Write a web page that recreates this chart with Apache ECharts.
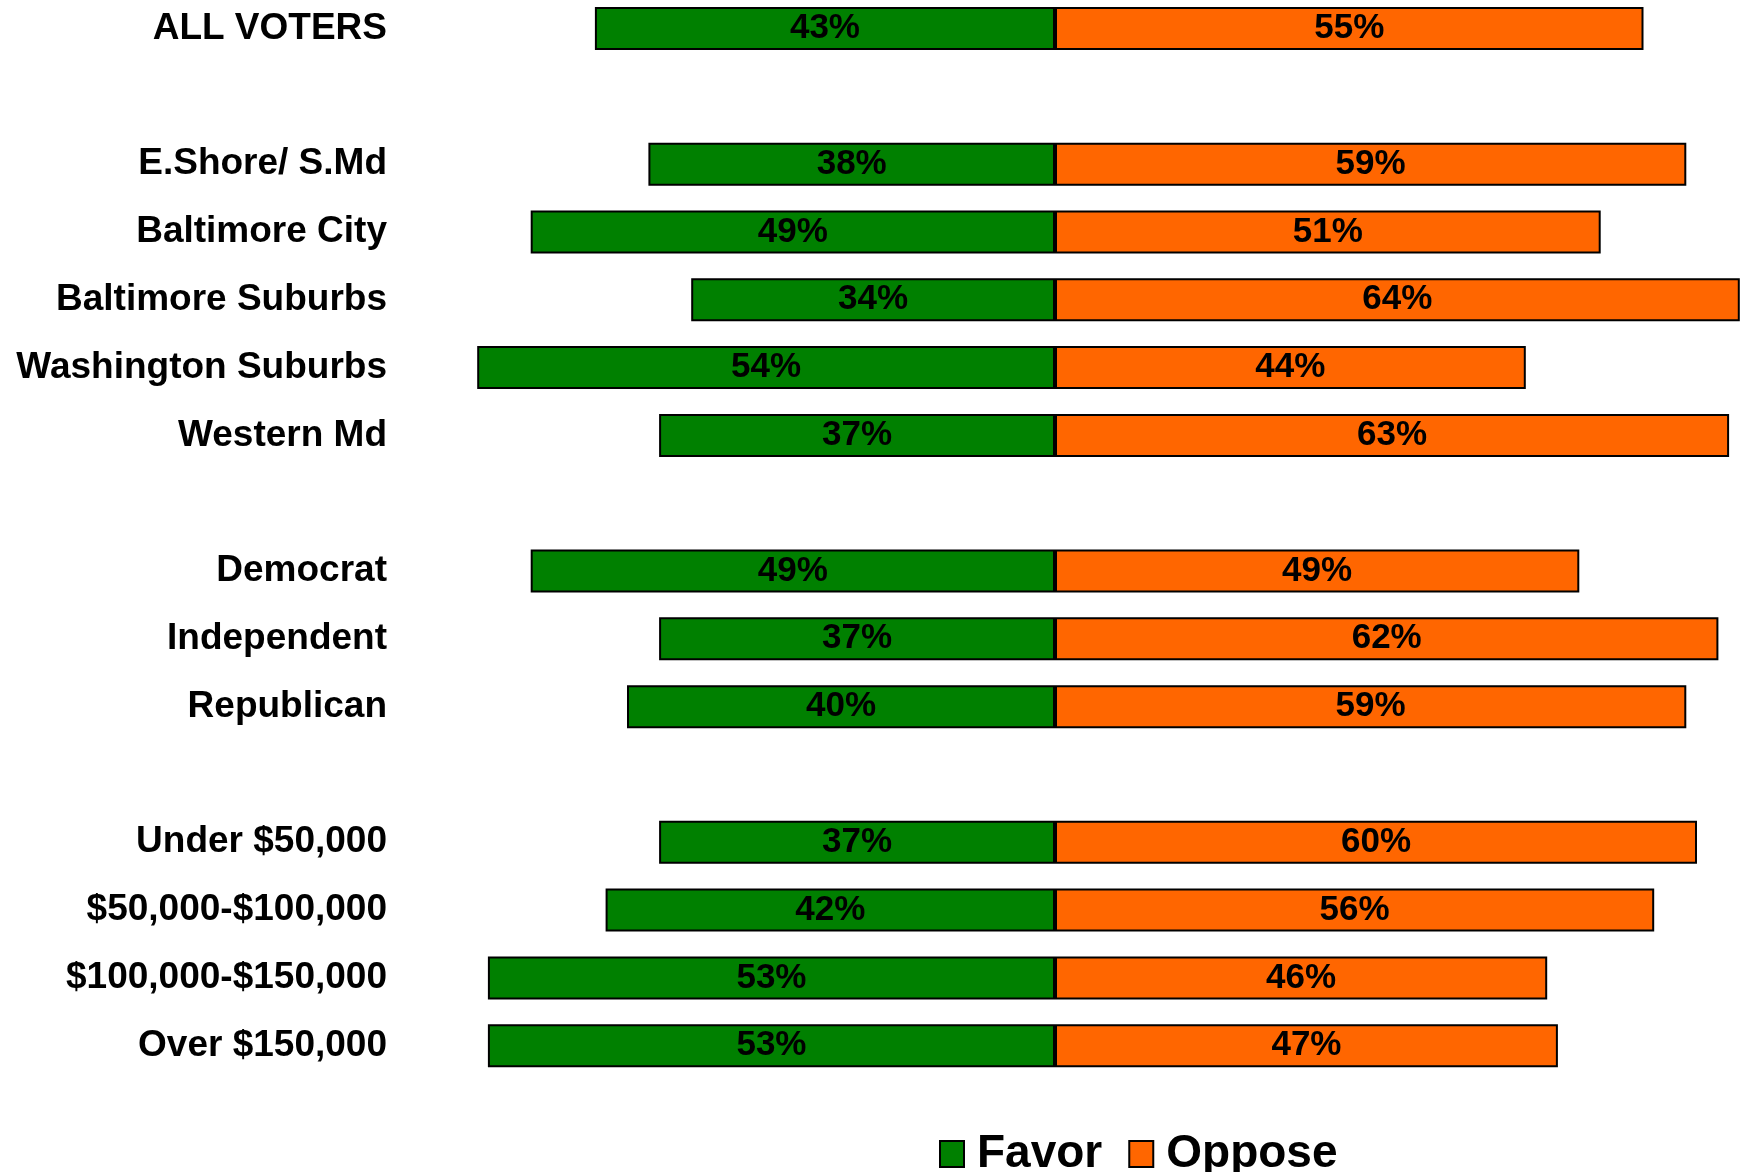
<!DOCTYPE html>
<html>
<head>
<meta charset="utf-8">
<style>
html,body{margin:0;padding:0;background:#fff;overflow:hidden;}
#chart{position:absolute;left:0;top:-20px;width:1749px;height:1192px;}
</style>
<script src="https://cdn.jsdelivr.net/npm/echarts@6/dist/echarts.min.js"></script>
</head>
<body>
<div id="chart"></div>
<script>
var categories = ['ALL VOTERS', ' ', 'E.Shore/ S.Md', 'Baltimore City', 'Baltimore Suburbs', 'Washington Suburbs', 'Western Md', '  ', 'Democrat', 'Independent', 'Republican', '   ', 'Under $50,000', '$50,000-$100,000', '$100,000-$150,000', 'Over $150,000'];
var favor  = [43, null, 38, 49, 34, 54, 37, null, 49, 37, 40, null, 37, 42, 53, 53];
var oppose = [55, null, 59, 51, 64, 44, 63, null, 49, 62, 59, null, 60, 56, 46, 47];

var FONT = '"Liberation Sans", Arial, Helvetica, sans-serif';
var chart = echarts.init(document.getElementById('chart'));
function lbl(p){ return p.value == null ? '' : Math.abs(p.value) + '%'; }
chart.setOption({
  animation: false,
  backgroundColor: '#ffffff',
  grid: { left: 413, right: 9.2, top: 14.6, height: 1085, containLabel: false },
  xAxis: {
    type: 'value', min: -60, max: 64, show: false
  },
  yAxis: {
    type: 'category', data: categories, inverse: true,
    axisLine: { show: false }, axisTick: { show: false }, splitLine: { show: false },
    axisLabel: { color: '#000', fontSize: 37, fontWeight: 'bold', fontFamily: FONT, margin: 26, padding: [8, 0, 0, 0] }
  },
  legend: {
    data: ['Favor', 'Oppose'],
    left: 934, top: 1146,
    icon: 'rect',
    itemWidth: 24, itemHeight: 26, itemGap: 26,
    textStyle: { color: '#000', fontSize: 46, fontWeight: 'bold', fontFamily: FONT, padding: [0, 0, 0, 8] }
  },
  series: [
    {
      name: 'Favor', type: 'bar', stack: 'total', barWidth: 43,
      data: favor.map(function(v){ return v == null ? null : -v; }),
      itemStyle: { color: '#008000', borderColor: '#000', borderWidth: 2 },
      label: { show: true, position: 'inside', formatter: lbl, color: '#000', fontSize: 35, fontWeight: 'bold', fontFamily: FONT }
    },
    {
      name: 'Oppose', type: 'bar', stack: 'total', barWidth: 43,
      data: oppose,
      itemStyle: { color: '#FF6600', borderColor: '#000', borderWidth: 2 },
      label: { show: true, position: 'inside', formatter: lbl, color: '#000', fontSize: 35, fontWeight: 'bold', fontFamily: FONT }
    }
  ]
});
</script>
</body>
</html>
